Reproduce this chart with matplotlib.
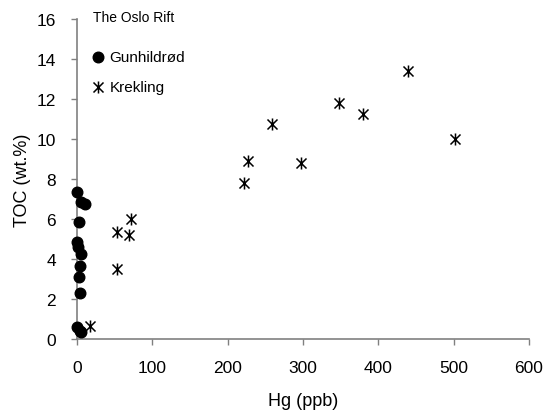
import numpy as np
import matplotlib.pyplot as plt
from matplotlib.path import Path

plt.rcParams['font.family'] = ['Liberation Sans', 'DejaVu Sans']

# Gunhildrød
gun_hg = [0, 6, 10, 3, 0, 2, 6, 4, 3, 4, 0, 4, 6]
gun_toc = [7.33, 6.85, 6.75, 5.87, 4.87, 4.58, 4.25, 3.67, 3.12, 2.3, 0.58, 0.42, 0.35]

# Krekling
kre_hg = [17, 53, 53, 69, 72, 222, 227, 259, 297, 348, 380, 440, 502]
kre_toc = [0.65, 3.5, 5.35, 5.2, 6.0, 7.8, 8.9, 10.75, 8.8, 11.8, 11.25, 13.4, 10.0]

x_ticks = [0, 100, 200, 300, 400, 500, 600]
y_ticks = [0, 2, 4, 6, 8, 10, 12, 14, 16]

# excel-like star: x with a vertical bar
star = Path([(-1, -1), (1, 1), (-1, 1), (1, -1), (0, -1.2), (0, 1.2)],
            [Path.MOVETO, Path.LINETO, Path.MOVETO, Path.LINETO, Path.MOVETO, Path.LINETO])

fig = plt.figure(figsize=(5.44, 4.14), dpi=100)
ax = fig.add_axes([0.1415, 0.1787, 0.9724 - 0.1415, 0.9517 - 0.1787])

ax.scatter(gun_hg, gun_toc, s=58, c='black', marker='o', label='Gunhildrød',
           zorder=3, clip_on=False)
ax.scatter(kre_hg, kre_toc, s=75, c='black', marker=star, linewidths=1.1,
           label='Krekling', zorder=3, clip_on=False)

ax.set_xlim(0, 600)
ax.set_ylim(0, 16)
ax.set_xticks(x_ticks)
ax.set_yticks(y_ticks)
ax.tick_params(direction='out', length=4, width=1, color='#808080', labelsize=12.5)
ax.tick_params(axis='y', pad=11)
ax.tick_params(axis='x', pad=11)
for side in ['top', 'right']:
    ax.spines[side].set_visible(False)
for side in ['left', 'bottom']:
    ax.spines[side].set_color('#808080')
    ax.spines[side].set_linewidth(1.2)

ax.set_xlabel('Hg (ppb)', fontsize=13, labelpad=12)
ax.set_ylabel('TOC (wt.%)', fontsize=13, labelpad=4)

ax.text(0.035, 1.006, 'The Oslo Rift', transform=ax.transAxes, fontsize=10,
        va='center', ha='left')
ax.legend(loc='upper left', frameon=False, fontsize=11,
          handletextpad=0.2, handlelength=1.1,
          labelspacing=1.05, borderaxespad=0.0, bbox_to_anchor=(0.015, 0.922),
          markerscale=1.0)

fig.savefig('out.png', dpi=100)
